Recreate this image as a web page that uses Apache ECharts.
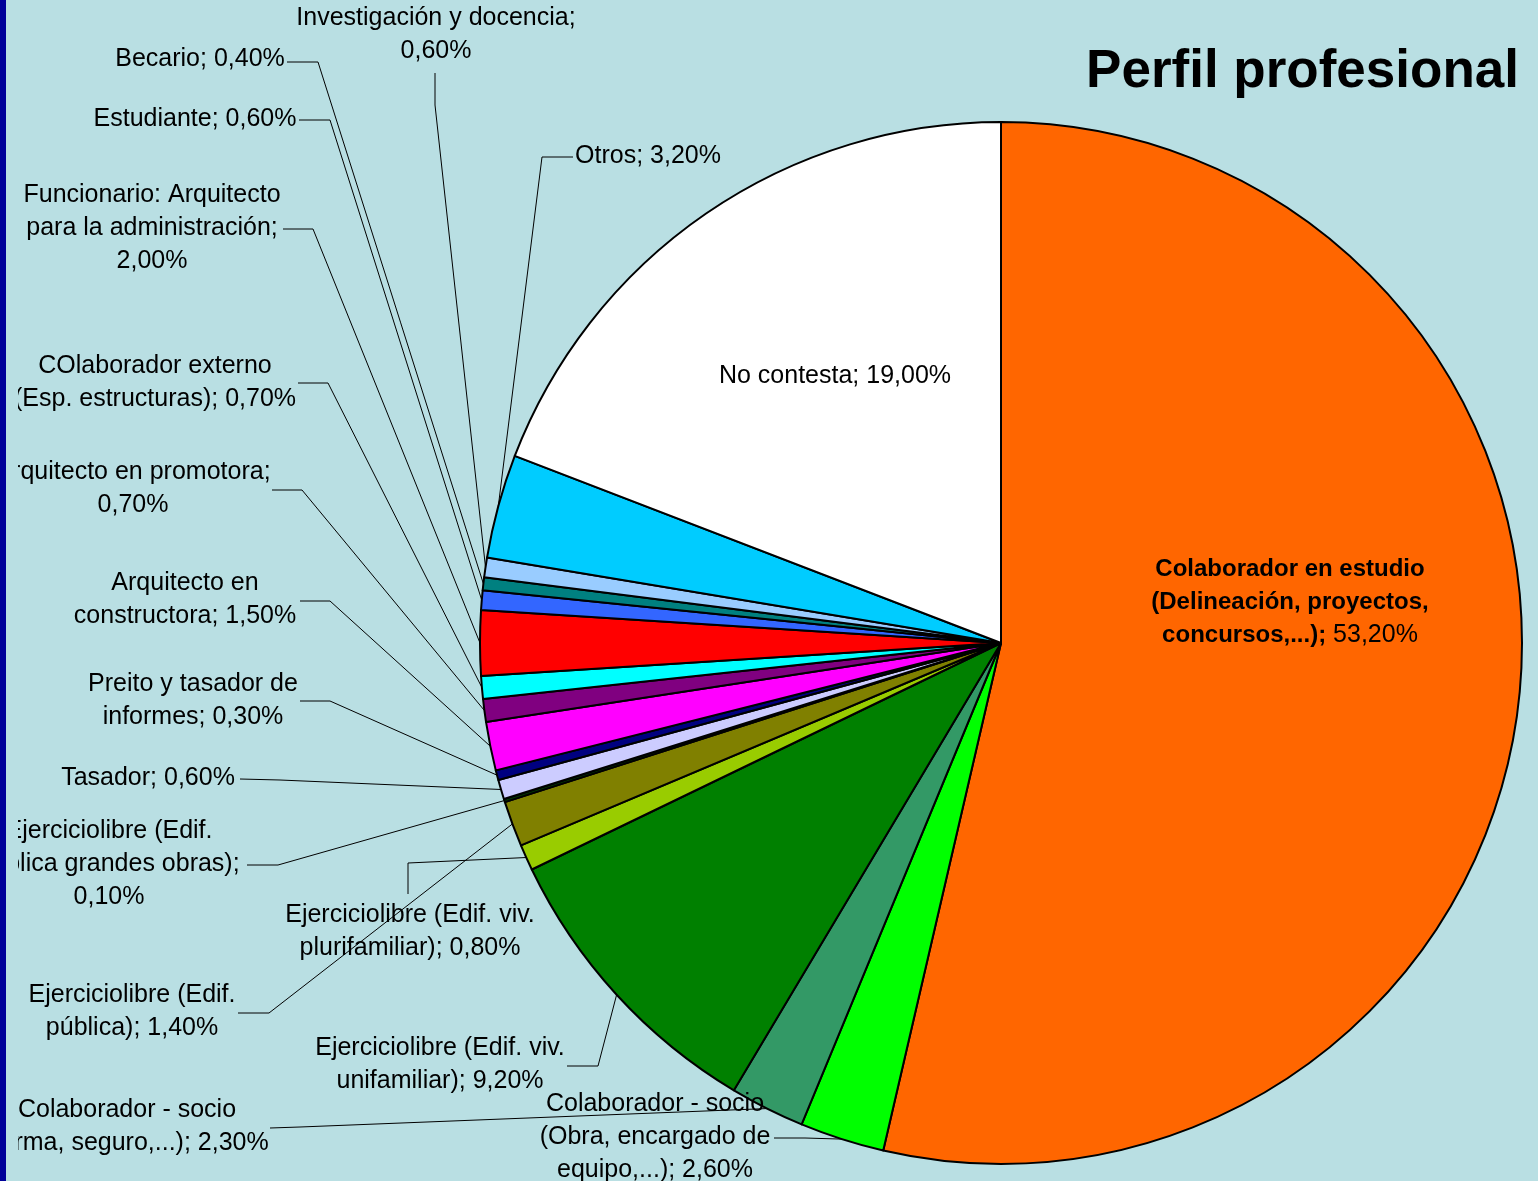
<!DOCTYPE html>
<html>
<head>
<meta charset="utf-8">
<title>Perfil profesional</title>
<script src="https://cdn.jsdelivr.net/npm/echarts@6/dist/echarts.min.js"></script>
<style>
html, body { margin: 0; padding: 0; background: #b9dfe3; }
#chart_pie { width: 1538px; height: 1181px; }
</style>
</head>
<body>
<div id="chart_pie"></div>
<script>
const chartTitle = 'Perfil profesional'

const categories = [
  'Colaborador en estudio (Delineación, proyectos, concursos,...)',
  'Colaborador - socio (Obra, encargado de equipo,...)',
  'Colaborador - socio (Firma, seguro,...)',
  'Ejerciciolibre (Edif. viv. unifamiliar)',
  'Ejerciciolibre (Edif. viv. plurifamiliar)',
  'Ejerciciolibre (Edif. pública)',
  'Ejerciciolibre (Edif. pública grandes obras)',
  'Tasador',
  'Preito y tasador de informes',
  'Arquitecto en constructora',
  'Arquitecto en promotora',
  'COlaborador externo (Esp. estructuras)',
  'Funcionario: Arquitecto para la administración',
  'Estudiante',
  'Becario',
  'Investigación y docencia',
  'Otros',
  'No contesta'
]

const values = [53.2, 2.6, 2.3, 9.2, 0.8, 1.4, 0.1, 0.6, 0.3, 1.5, 0.7, 0.7, 2.0, 0.6, 0.4, 0.6, 3.2, 19.0]

// slice fills, same order as categories
const colors = [
  '#FF6600', '#00FF00', '#339966', '#008000', '#99CC00', '#808000',
  '#003300', '#CCCCFF', '#000080', '#FF00FF', '#800080', '#00FFFF',
  '#FF0000', '#3366FF', '#008080', '#99CCFF', '#00CCFF', '#FFFFFF'
]

// label placement: text centre, wrap width, leader bend and end (none = inside label)
const labelSpots = [
  { x: 1290, y: 602, w: 290 },
  { x: 655, y: 1137, w: 260, bend: [805, 1138], end: [774, 1138] },
  { x: 127, y: 1127, w: 293, bend: [300, 1127], end: [270, 1128] },
  { x: 440, y: 1065, w: 265, bend: [598, 1066], end: [567, 1066] },
  { x: 410, y: 932, w: 265, bend: [408, 863], end: [408, 894] },
  { x: 132, y: 1012, w: 250, bend: [269, 1013], end: [238, 1013] },
  { x: 109, y: 864, w: 277, bend: [278, 865], end: [247, 865] },
  { x: 148, y: 778, w: 260, bend: [280, 780], end: [240, 779] },
  { x: 193, y: 701, w: 260, bend: [330, 701], end: [300, 701] },
  { x: 185, y: 600, w: 260, bend: [330, 601], end: [300, 601] },
  { x: 133, y: 489, w: 300, bend: [302, 490], end: [272, 490] },
  { x: 155, y: 383, w: 290, bend: [328, 383], end: [298, 383] },
  { x: 152, y: 228, w: 285, bend: [313, 229], end: [283, 229] },
  { x: 195, y: 119, w: 300, bend: [330, 120], end: [299, 120] },
  { x: 200, y: 59, w: 300, bend: [318, 62], end: [287, 62] },
  { x: 436, y: 35, w: 300, bend: [435, 105], end: [435, 73] },
  { x: 648, y: 156, w: 300, bend: [542, 157], end: [573, 157] },
  { x: 835, y: 376, w: 300 }
]

const font = '"Liberation Sans", Arial, sans-serif'
const measureCtx = document.createElement('canvas').getContext('2d')

function pct(v) {
  return v.toFixed(2).replace('.', ',') + '%'
}

// greedy word wrap, measured with the same font the label uses
function wrapLines(text, maxWidth, fontStr) {
  measureCtx.font = fontStr
  const words = text.split(' ')
  const lines = []
  let line = ''
  words.forEach(function (word) {
    const next = line ? line + ' ' + word : word
    if (line && measureCtx.measureText(next).width > maxWidth) {
      lines.push(line)
      line = word
    } else {
      line = next
    }
  })
  lines.push(line)
  return lines
}

const pieData = categories.map(function (name, i) {
  const item = {
    name: name,
    value: values[i],
    itemStyle: { color: colors[i] }
  }
  if (!labelSpots[i].end) {
    item.labelLine = { show: false }
  }
  return item
})

const chart = echarts.init(document.getElementById('chart_pie'))

chart.setOption({
  backgroundColor: '#b9dfe3',
  animation: false,
  graphic: [
    {
      type: 'text',
      right: 19,
      top: 46,
      style: {
        text: chartTitle,
        font: 'bold 53px ' + font,
        fill: '#000'
      }
    },
    // dark frame on the left edge, and the strip that cuts the labels off
    {
      type: 'rect',
      z: 100,
      shape: { x: 6, y: 0, width: 12, height: 1181 },
      style: { fill: '#b9dfe3' }
    },
    {
      type: 'rect',
      z: 101,
      shape: { x: 0, y: 0, width: 6, height: 1181 },
      style: { fill: '#000099' }
    }
  ],
  series: [
    {
      type: 'pie',
      center: [1001, 643],
      radius: 521,
      startAngle: 90,
      clockwise: true,
      avoidLabelOverlap: false,
      data: pieData,
      itemStyle: {
        borderColor: '#000',
        borderWidth: 2
      },
      label: {
        show: true,
        position: 'outside',
        color: '#000',
        fontFamily: font,
        fontSize: 25,
        lineHeight: 33,
        align: 'center',
        overflow: 'none',
        formatter: function (p) {
          const spot = labelSpots[p.dataIndex]
          const tail = pct(p.value)
          const text = p.name + '; ' + tail
          if (p.dataIndex === 0) {
            const lines = wrapLines(text, spot.w, 'bold 24px ' + font)
            return lines.map(function (l) {
              if (l.endsWith(tail)) {
                return '{b|' + l.slice(0, l.length - tail.length - 1) + '}{n| ' + tail + '}'
              }
              return '{b|' + l + '}'
            }).join('\n')
          }
          return wrapLines(text, spot.w, '25px ' + font).join('\n')
        },
        rich: {
          b: { fontFamily: font, fontSize: 24, fontWeight: 'bold', color: '#000', lineHeight: 33 },
          n: { fontFamily: font, fontSize: 25, color: '#000', lineHeight: 33 }
        }
      },
      labelLine: {
        show: true,
        smooth: false,
        lineStyle: { color: '#000', width: 1 }
      },
      labelLayout: function (params) {
        const spot = labelSpots[params.dataIndex]
        const out = { x: spot.x, y: spot.y, align: 'center', verticalAlign: 'middle' }
        if (spot.end && params.labelLinePoints) {
          out.labelLinePoints = [params.labelLinePoints[0], spot.bend, spot.end]
        }
        return out
      }
    }
  ]
})
</script>
</body>
</html>
